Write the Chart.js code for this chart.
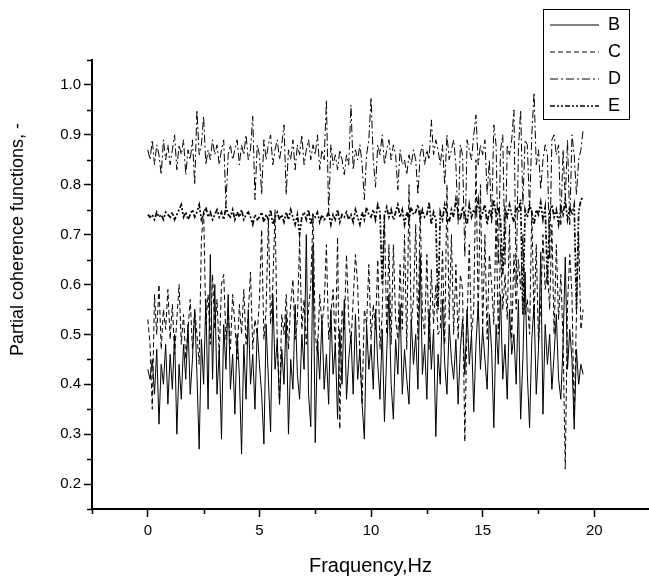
<!DOCTYPE html>
<html>
<head>
<meta charset="utf-8">
<title>Partial coherence functions</title>
<script src="https://cdn.jsdelivr.net/npm/chart.js@4.4.1/dist/chart.umd.min.js"></script>
<style>
  html, body { margin: 0; padding: 0; background: #fff; }
  #wrap { width: 649px; height: 578px; }
</style>
</head>
<body>
<div id="wrap"><canvas id="coh" width="649" height="578"></canvas></div>
<script>
// frequency grid, Hz
const freq = [
  0.0, 0.1, 0.2, 0.3, 0.4, 0.5, 0.6, 0.7, 0.8, 0.9,
  1.0, 1.1, 1.2, 1.3, 1.4, 1.5, 1.6, 1.7, 1.8, 1.9,
  2.0, 2.1, 2.2, 2.3, 2.4, 2.5, 2.6, 2.7, 2.8, 2.9,
  3.0, 3.1, 3.2, 3.3, 3.4, 3.5, 3.6, 3.7, 3.8, 3.9,
  4.0, 4.1, 4.2, 4.3, 4.4, 4.5, 4.6, 4.7, 4.8, 4.9,
  5.0, 5.1, 5.2, 5.3, 5.4, 5.5, 5.6, 5.7, 5.8, 5.9,
  6.0, 6.1, 6.2, 6.3, 6.4, 6.5, 6.6, 6.7, 6.8, 6.9,
  7.0, 7.1, 7.2, 7.3, 7.4, 7.5, 7.6, 7.7, 7.8, 7.9,
  8.0, 8.1, 8.2, 8.3, 8.4, 8.5, 8.6, 8.7, 8.8, 8.9,
  9.0, 9.1, 9.2, 9.3, 9.4, 9.5, 9.6, 9.7, 9.8, 9.9,
  10.0, 10.1, 10.2, 10.3, 10.4, 10.5, 10.6, 10.7, 10.8, 10.9,
  11.0, 11.1, 11.2, 11.3, 11.4, 11.5, 11.6, 11.7, 11.8, 11.9,
  12.0, 12.1, 12.2, 12.3, 12.4, 12.5, 12.6, 12.7, 12.8, 12.9,
  13.0, 13.1, 13.2, 13.3, 13.4, 13.5, 13.6, 13.7, 13.8, 13.9,
  14.0, 14.1, 14.2, 14.3, 14.4, 14.5, 14.6, 14.7, 14.8, 14.9,
  15.0, 15.1, 15.2, 15.3, 15.4, 15.5, 15.6, 15.7, 15.8, 15.9,
  16.0, 16.1, 16.2, 16.3, 16.4, 16.5, 16.6, 16.7, 16.8, 16.9,
  17.0, 17.1, 17.2, 17.3, 17.4, 17.5, 17.6, 17.7, 17.8, 17.9,
  18.0, 18.1, 18.2, 18.3, 18.4, 18.5, 18.6, 18.7, 18.8, 18.9,
  19.0, 19.1, 19.2, 19.3, 19.4, 19.5
];

// B - solid
const cohB = [
  0.43, 0.41, 0.45, 0.38, 0.47, 0.32, 0.44, 0.40, 0.48, 0.36,
  0.46, 0.39, 0.50, 0.30, 0.44, 0.37, 0.48, 0.41, 0.52, 0.38,
  0.45, 0.55, 0.42, 0.27, 0.49, 0.40, 0.57, 0.35, 0.66, 0.41,
  0.60, 0.38, 0.47, 0.29, 0.52, 0.43, 0.58, 0.39, 0.46, 0.34,
  0.50, 0.42, 0.26, 0.48, 0.37, 0.55, 0.40, 0.46, 0.35, 0.51,
  0.44, 0.38, 0.28, 0.52, 0.41, 0.305, 0.58, 0.43, 0.49, 0.36,
  0.47, 0.40, 0.54, 0.30, 0.45, 0.39, 0.56, 0.42, 0.37, 0.50,
  0.43, 0.70, 0.38, 0.315, 0.68, 0.283, 0.49, 0.41, 0.53, 0.39,
  0.46, 0.36, 0.55, 0.42, 0.48, 0.33, 0.51, 0.40, 0.57, 0.37,
  0.45, 0.50, 0.38, 0.54, 0.41, 0.47, 0.36, 0.29, 0.52, 0.43,
  0.48, 0.39, 0.55, 0.44, 0.37, 0.51, 0.325, 0.46, 0.58, 0.40,
  0.33, 0.49, 0.42, 0.56, 0.38, 0.47, 0.41, 0.36, 0.53, 0.44,
  0.50, 0.39, 0.66, 0.42, 0.48, 0.37, 0.55, 0.43, 0.51, 0.295,
  0.46, 0.40, 0.57, 0.44, 0.38, 0.52, 0.45, 0.41, 0.49, 0.36,
  0.47, 0.53, 0.42, 0.55, 0.44, 0.50, 0.345, 0.48, 0.56, 0.43,
  0.51, 0.45, 0.39, 0.54, 0.47, 0.313, 0.52, 0.44, 0.58, 0.41,
  0.48, 0.37, 0.55, 0.46, 0.50, 0.40, 0.57, 0.33, 0.45, 0.625,
  0.42, 0.313, 0.49, 0.56, 0.38, 0.47, 0.665, 0.34, 0.52, 0.44,
  0.50, 0.39, 0.46, 0.54, 0.41, 0.37, 0.48, 0.655, 0.43, 0.51,
  0.45, 0.31, 0.47, 0.40, 0.44, 0.42
];

// C - dash
const cohC = [
  0.53, 0.48, 0.35, 0.58, 0.50, 0.60, 0.47, 0.55, 0.51, 0.59,
  0.49, 0.56, 0.46, 0.53, 0.60, 0.48, 0.54, 0.45, 0.51, 0.57,
  0.47, 0.55, 0.50, 0.44, 0.69, 0.75, 0.52, 0.58, 0.48, 0.62,
  0.51, 0.57, 0.46, 0.60, 0.62, 0.49, 0.55, 0.47, 0.58, 0.52,
  0.45, 0.56, 0.50, 0.59, 0.48, 0.54, 0.625, 0.47, 0.53, 0.50,
  0.57, 0.71, 0.49, 0.55, 0.73, 0.52, 0.60, 0.75, 0.48, 0.36,
  0.54, 0.50, 0.58, 0.47, 0.56, 0.61, 0.49, 0.53, 0.69, 0.51,
  0.57, 0.48, 0.55, 0.60, 0.74, 0.50, 0.46, 0.58, 0.52, 0.56,
  0.68, 0.49, 0.54, 0.59, 0.47, 0.695, 0.31, 0.55, 0.51, 0.66,
  0.53, 0.48, 0.57, 0.66, 0.60, 0.46, 0.36, 0.55, 0.52, 0.64,
  0.49, 0.56, 0.51, 0.65, 0.47, 0.54, 0.74, 0.50, 0.68, 0.48,
  0.68, 0.53, 0.49, 0.64, 0.51, 0.70, 0.47, 0.80, 0.52, 0.57,
  0.72, 0.49, 0.75, 0.54, 0.50, 0.66, 0.47, 0.63, 0.52, 0.60,
  0.50, 0.51, 0.67, 0.48, 0.80, 0.53, 0.70, 0.50, 0.64, 0.49,
  0.62, 0.59, 0.285, 0.52, 0.68, 0.50, 0.55, 0.85, 0.53, 0.80,
  0.51, 0.70, 0.49, 0.66, 0.60, 0.52, 0.74, 0.50, 0.68, 0.55,
  0.62, 0.53, 0.72, 0.49, 0.66, 0.55, 0.65, 0.59, 0.70, 0.54,
  0.57, 0.50, 0.75, 0.53, 0.68, 0.48, 0.56, 0.70, 0.59, 0.63,
  0.55, 0.72, 0.50, 0.68, 0.53, 0.62, 0.49, 0.23, 0.56, 0.66,
  0.58, 0.33, 0.54, 0.70, 0.51, 0.55
];

// D - dash dot
const cohD = [
  0.87, 0.85, 0.89, 0.84, 0.88, 0.86, 0.82, 0.89, 0.85, 0.88,
  0.84, 0.87, 0.90, 0.83, 0.88, 0.86, 0.89, 0.82, 0.87, 0.85,
  0.89, 0.80, 0.95, 0.86, 0.88, 0.937, 0.84, 0.87, 0.85, 0.89,
  0.86, 0.88, 0.84, 0.87, 0.89, 0.76, 0.86, 0.88, 0.85, 0.87,
  0.89, 0.84, 0.88, 0.86, 0.90, 0.85, 0.87, 0.937, 0.77, 0.88,
  0.86, 0.78, 0.89, 0.85, 0.88, 0.90, 0.84, 0.87, 0.89, 0.85,
  0.88, 0.92, 0.78, 0.87, 0.85, 0.89, 0.83, 0.88, 0.86, 0.90,
  0.84, 0.87, 0.89, 0.85, 0.88, 0.86, 0.90, 0.83, 0.87, 0.85,
  0.97, 0.74, 0.88, 0.84, 0.86, 0.83, 0.87, 0.85, 0.82, 0.86,
  0.84, 0.96, 0.83, 0.87, 0.85, 0.88, 0.84, 0.77, 0.86, 0.89,
  0.975, 0.85, 0.795, 0.88, 0.86, 0.90, 0.84, 0.87, 0.89, 0.85,
  0.88, 0.86, 0.79, 0.87, 0.84, 0.85, 0.82, 0.86, 0.84, 0.87,
  0.85, 0.78, 0.86, 0.88, 0.84, 0.87, 0.85, 0.93, 0.86, 0.89,
  0.87, 0.84, 0.88, 0.80, 0.90, 0.85, 0.87, 0.89, 0.84, 0.72,
  0.88, 0.86, 0.655, 0.89, 0.87, 0.85, 0.90, 0.94, 0.84, 0.88,
  0.86, 0.89, 0.78, 0.85, 0.72, 0.92, 0.88, 0.64, 0.87, 0.90,
  0.64, 0.88, 0.86, 0.89, 0.95, 0.60, 0.87, 0.95, 0.76, 0.89,
  0.88, 0.75, 0.90, 0.985, 0.84, 0.87, 0.79, 0.85, 0.88, 0.86,
  0.65, 0.89, 0.90, 0.86, 0.88, 0.72, 0.87, 0.77, 0.89, 0.72,
  0.90, 0.86, 0.78, 0.85, 0.87, 0.91
];

// E - dash dot dot
const cohE = [
  0.74, 0.735, 0.74, 0.73, 0.745, 0.735, 0.74, 0.73, 0.745, 0.74,
  0.735, 0.745, 0.73, 0.74, 0.75, 0.76, 0.735, 0.745, 0.73, 0.74,
  0.75, 0.735, 0.745, 0.76, 0.73, 0.74, 0.755, 0.735, 0.745, 0.73,
  0.74, 0.75, 0.735, 0.745, 0.73, 0.755, 0.74, 0.735, 0.75, 0.73,
  0.745, 0.735, 0.75, 0.73, 0.74, 0.745, 0.735, 0.72, 0.74, 0.73,
  0.735, 0.745, 0.725, 0.74, 0.73, 0.75, 0.72, 0.735, 0.745, 0.73,
  0.74, 0.725, 0.745, 0.73, 0.75, 0.735, 0.72, 0.74, 0.70, 0.735,
  0.745, 0.73, 0.75, 0.72, 0.74, 0.735, 0.745, 0.725, 0.74, 0.73,
  0.735, 0.745, 0.72, 0.74, 0.73, 0.75, 0.725, 0.74, 0.735, 0.745,
  0.73, 0.74, 0.725, 0.75, 0.735, 0.72, 0.745, 0.73, 0.755, 0.74,
  0.735, 0.75, 0.73, 0.76, 0.745, 0.60, 0.74, 0.755, 0.735, 0.75,
  0.73, 0.745, 0.76, 0.735, 0.75, 0.72, 0.745, 0.73, 0.755, 0.74,
  0.745, 0.76, 0.73, 0.75, 0.735, 0.74, 0.765, 0.72, 0.745, 0.73,
  0.55, 0.745, 0.73, 0.76, 0.74, 0.725, 0.75, 0.735, 0.77, 0.745,
  0.73, 0.755, 0.74, 0.72, 0.76, 0.735, 0.75, 0.74, 0.77, 0.73,
  0.745, 0.76, 0.72, 0.75, 0.735, 0.77, 0.74, 0.755, 0.73, 0.62,
  0.75, 0.735, 0.76, 0.74, 0.725, 0.755, 0.745, 0.77, 0.54, 0.75,
  0.735, 0.76, 0.745, 0.72, 0.75, 0.74, 0.765, 0.73, 0.755, 0.60,
  0.745, 0.76, 0.735, 0.75, 0.72, 0.755, 0.74, 0.77, 0.73, 0.755,
  0.74, 0.76, 0.55, 0.745, 0.77, 0.775
];

const seriesNames = ['B', 'C', 'D', 'E'];
const xMajor = [0, 5, 10, 15, 20];
const xMinor = [-2.5, 2.5, 7.5, 12.5, 17.5];
const yMajor = [0.2, 0.3, 0.4, 0.5, 0.6, 0.7, 0.8, 0.9, 1.0];
const yMinor = [0.15, 0.25, 0.35, 0.45, 0.55, 0.65, 0.75, 0.85, 0.95, 1.05];

const FONT = "'Liberation Sans', Arial, sans-serif";

const lineStyle = [
  { dash: [], width: 1 },
  { dash: [5, 3], width: 1 },
  { dash: [8, 3, 2, 3], width: 1 },
  { dash: [5, 2, 2, 2, 2, 2], width: 1.7 }
];

// legend sits half above the frame, like the Origin original
const legendBox = {
  id: 'legendBox',
  afterLayout(chart) {
    const lg = chart.legend;
    if (!lg) return;
    lg.left = 541; lg.top = 7; lg.right = 631; lg.bottom = 130;
    lg.width = 90; lg.height = 123;
  },
  afterDraw(chart) {
    const ctx = chart.ctx;
    ctx.save();
    ctx.strokeStyle = '#000';
    ctx.lineWidth = 1;
    ctx.setLineDash([]);
    ctx.strokeRect(543.5, 9.5, 86, 110);
    ctx.restore();
  }
};

// short minor ticks and y title nudge
const minorTicks = {
  id: 'minorTicks',
  beforeDraw(chart) {
    const s = chart.scales.y;
    if (!s._nudged) {
      const orig = s.drawTitle;
      s.drawTitle = function () {
        const c = this.ctx;
        c.save();
        c.translate(0, -45);
        orig.call(this);
        c.restore();
      };
      s._nudged = true;
    }
  },
  afterDraw(chart) {
    const ctx = chart.ctx;
    const xs = chart.scales.x, ys = chart.scales.y;
    const a = chart.chartArea;
    ctx.save();
    ctx.strokeStyle = '#000';
    ctx.lineWidth = 1.5;
    ctx.setLineDash([]);
    ctx.beginPath();
    xMinor.forEach(v => {
      const px = Math.round(xs.getPixelForValue(v)) + 0.5;
      ctx.moveTo(px, a.bottom);
      ctx.lineTo(px, a.bottom + 5);
    });
    yMinor.forEach(v => {
      const py = Math.round(ys.getPixelForValue(v)) + 0.5;
      ctx.moveTo(a.left, py);
      ctx.lineTo(a.left - 5, py);
    });
    ctx.stroke();
    ctx.restore();
  }
};

const seriesData = [cohB, cohC, cohD, cohE];

const ctx = document.getElementById('coh').getContext('2d');
new Chart(ctx, {
  type: 'line',
  data: {
    labels: freq,
    datasets: seriesData.map((d, i) => ({
      label: seriesNames[i],
      data: d,
      borderColor: '#000',
      backgroundColor: '#000',
      borderWidth: lineStyle[i].width,
      borderDash: lineStyle[i].dash,
      pointRadius: 0,
      tension: 0,
      fill: false
    }))
  },
  options: {
    responsive: false,
    animation: false,
    layout: { padding: { top: 60, left: 0, right: 0, bottom: 0 } },
    plugins: {
      legend: {
        position: 'chartArea',
        align: 'start',
        labels: {
          usePointStyle: true,
          pointStyle: 'line',
          pointStyleWidth: 49,
          padding: 9,
          color: '#000',
          font: { family: FONT, size: 18 },
          generateLabels: chart =>
            Chart.defaults.plugins.legend.labels.generateLabels(chart).map((item, i) =>
              Object.assign(item, {
                lineDash: lineStyle[i].dash,
                lineWidth: lineStyle[i].width,
                strokeStyle: '#000'
              }))
        }
      },
      tooltip: { enabled: false }
    },
    scales: {
      x: {
        type: 'linear',
        min: -2.5,
        max: 22.45,
        afterBuildTicks: s => { s.ticks = xMajor.map(v => ({ value: v })); },
        afterFit: s => { s.height = 69; },
        border: { display: true, color: '#000', width: 2 },
        grid: { drawOnChartArea: false, drawTicks: true, tickLength: 8, tickWidth: 1.5, tickColor: '#000' },
        ticks: { color: '#000', font: { family: FONT, size: 15 }, padding: 5, maxRotation: 0, autoSkip: false },
        title: { display: true, text: 'Fraquency,Hz', color: '#000', font: { family: FONT, size: 20 }, padding: { top: 0, bottom: 0 } }
      },
      y: {
        min: 0.15,
        max: 1.05,
        afterBuildTicks: s => { s.ticks = yMajor.map(v => ({ value: v })); },
        afterFit: s => { s.width = 92; },
        border: { display: true, color: '#000', width: 2 },
        grid: { drawOnChartArea: false, drawTicks: true, tickLength: 8, tickWidth: 1.5, tickColor: '#000' },
        ticks: { color: '#000', font: { family: FONT, size: 15 }, padding: 3, callback: v => v.toFixed(1) },
        title: { display: true, text: 'Partial coherence functions, -', color: '#000', font: { family: FONT, size: 18 }, padding: { top: 7, bottom: 7 } }
      }
    }
  },
  plugins: [legendBox, minorTicks]
});
</script>
</body>
</html>
